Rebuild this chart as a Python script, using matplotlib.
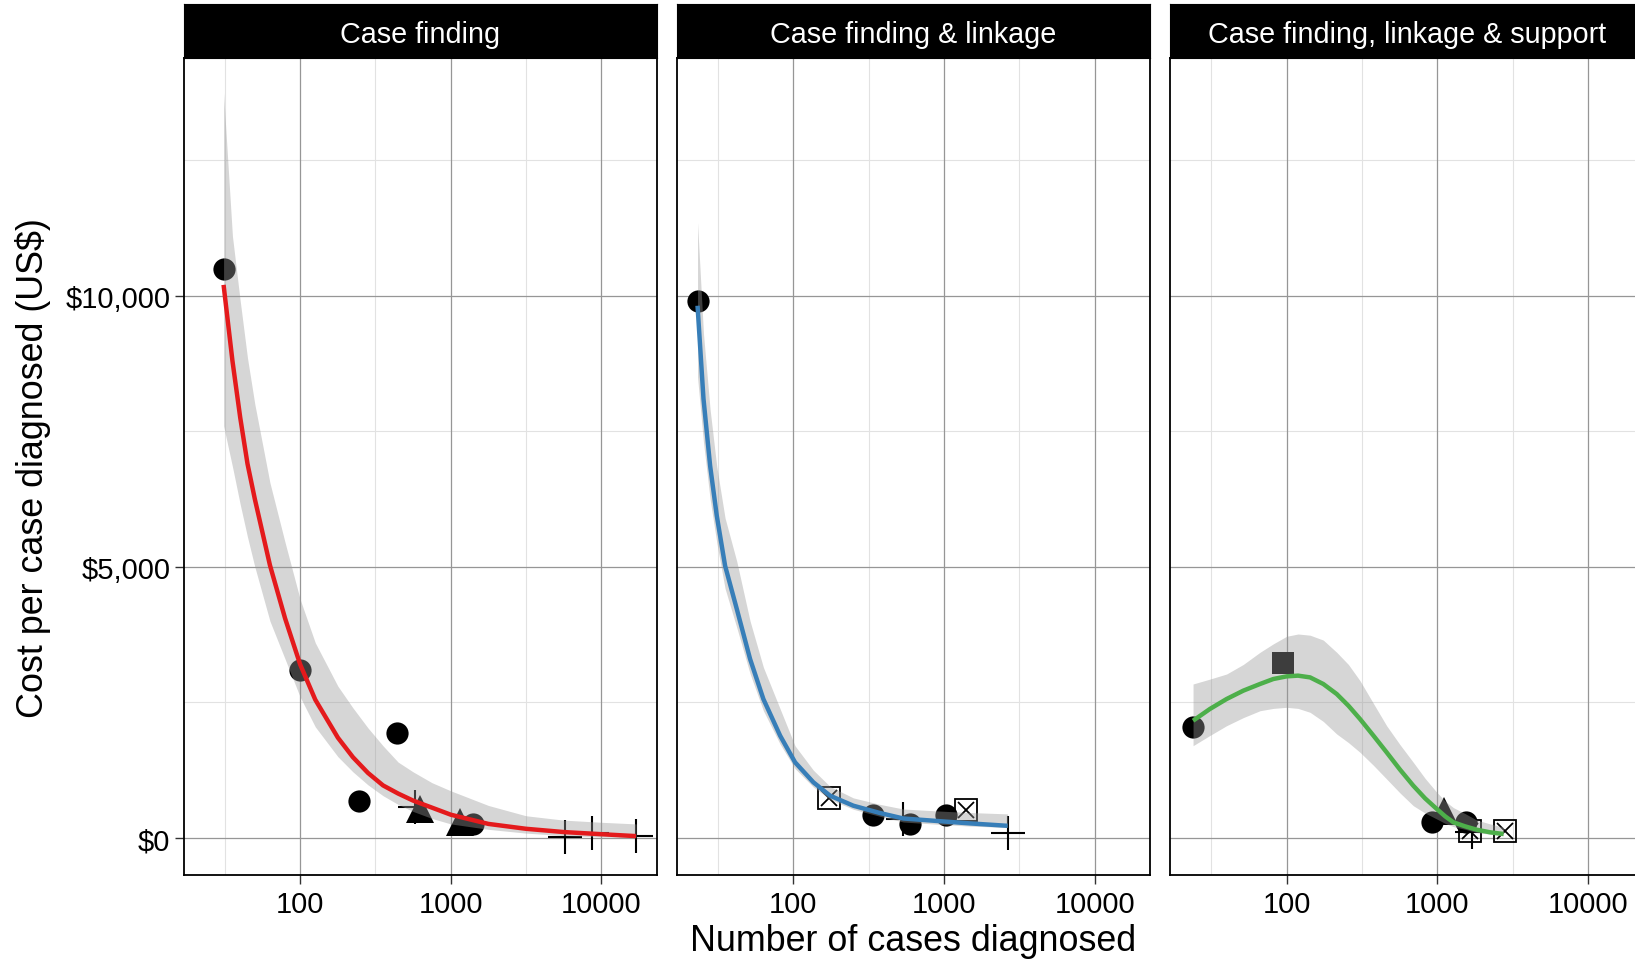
import matplotlib
matplotlib.use("Agg")
import matplotlib.pyplot as plt

plt.rcParams['font.family'] = ['Liberation Sans', 'DejaVu Sans']

panel_titles = ['Case finding', 'Case finding & linkage', 'Case finding, linkage & support']
line_colors = ['#E41A1C', '#377EB8', '#4DAF4A']

# points: cases diagnosed, cost per case (US$)
p1_circle_x = [31, 99, 438, 247, 1414]
p1_circle_y = [10490, 3100, 1930, 690, 250]
p1_tri_x = [620, 1153]
p1_tri_y = [540, 300]
p1_plus_x = [580, 5730, 8610, 17000]
p1_plus_y = [570, 15, 100, 35]

p2_circle_x = [23.1, 336, 594, 1031]
p2_circle_y = [9910, 424, 258, 424]
p2_boxx_x = [172, 1400]
p2_boxx_y = [735, 522]
p2_plus_x = [537, 2645]
p2_plus_y = [350, 92]

p3_circle_x = [23.9, 922, 1542]
p3_circle_y = [2040, 290, 300]
p3_square_x = [95]
p3_square_y = [3220]
p3_tri_x = [1101]
p3_tri_y = [500]
p3_boxx_x = [1648, 2820]
p3_boxx_y = [135, 135]
p3_plus_x = [1706]
p3_plus_y = [110]

# fitted curves with their bands
fit1_x = [31, 35.5, 40, 44.7, 50, 63, 79.4, 100, 126, 178, 224, 282, 355, 447, 562, 750,
          1000, 1778, 3162, 5623, 10000, 17000]
fit1_y = [10200, 8800, 7750, 6900, 6250, 5030, 4050, 3200, 2550, 1850, 1490, 1200, 970, 820, 690, 560,
          430, 260, 170, 110, 70, 35]
fit1_lo = [7600, 6850, 6150, 5550, 5000, 4000, 3300, 2600, 2050, 1500, 1220, 980, 780, 620, 490, 360,
           260, 160, 90, 45, 20, 8]
fit1_hi = [13740, 11100, 9900, 8850, 8000, 6550, 5450, 4400, 3600, 2800, 2400, 2030, 1700, 1400, 1220, 1020,
           870, 600, 410, 330, 290, 260]

fit2_x = [23.1, 25.3, 28, 31, 35.2, 42.1, 51.6, 63.2, 81.7, 102.6, 135.8, 175.4, 250, 376, 537, 891, 1479, 2645]
fit2_y = [9815, 8100, 6865, 5943, 5021, 4223, 3300, 2563, 1886, 1396, 1027, 780, 596, 461, 360, 315, 270, 225]
fit2_lo = [8500, 7300, 6250, 5450, 4600, 3880, 3030, 2350, 1730, 1280, 940, 710, 530, 400, 295, 255, 220, 195]
fit2_hi = [11350, 9300, 7900, 6850, 5900, 5100, 4000, 3150, 2380, 1700, 1250, 950, 740, 620, 535, 500, 470, 445]

fit3_x = [23.9, 30.9, 39.9, 51.5, 66.5, 81.5, 100, 119, 143, 175, 215, 257, 307, 377, 461, 566,
          693, 830, 993, 1128, 1280, 1531, 1829, 2244, 2754]
fit3_y = [2163, 2379, 2563, 2717, 2840, 2932, 2981, 2994, 2962, 2840, 2655, 2440, 2194, 1887, 1580, 1260,
          965, 731, 535, 400, 289, 215, 153, 105, 74]
fit3_lo = [1702, 1890, 2071, 2220, 2347, 2390, 2410, 2390, 2318, 2150, 1918, 1760, 1580, 1340, 1088, 830,
           596, 460, 350, 270, 210, 160, 100, 70, 42]
fit3_hi = [2840, 2930, 3024, 3200, 3424, 3580, 3720, 3762, 3740, 3650, 3424, 3200, 2900, 2480, 2071, 1720,
           1396, 1100, 843, 680, 560, 450, 330, 260, 197]

x_ticks = [100, 1000, 10000]
x_minor = [31.6, 316, 3162, 31623]
y_ticks = [0, 5000, 10000]
y_tick_labels = ['$0', '$5,000', '$10,000']
y_minor = [-2500, 2500, 7500, 12500]

W, H = 1635, 962
fig = plt.figure(figsize=(W / 100, H / 100), dpi=100)

lefts = [183.5, 676.7, 1170]
pw = 473.5
top, bottom = 59.4, 876
strip_top = 5

panels = [
    dict(circle=(p1_circle_x, p1_circle_y), tri=(p1_tri_x, p1_tri_y), plus=(p1_plus_x, p1_plus_y),
         fit=(fit1_x, fit1_y, fit1_lo, fit1_hi)),
    dict(circle=(p2_circle_x, p2_circle_y), boxx=(p2_boxx_x, p2_boxx_y), plus=(p2_plus_x, p2_plus_y),
         fit=(fit2_x, fit2_y, fit2_lo, fit2_hi)),
    dict(circle=(p3_circle_x, p3_circle_y), square=(p3_square_x, p3_square_y), tri=(p3_tri_x, p3_tri_y),
         boxx=(p3_boxx_x, p3_boxx_y), plus=(p3_plus_x, p3_plus_y),
         fit=(fit3_x, fit3_y, fit3_lo, fit3_hi)),
]

for i, pan in enumerate(panels):
    ax = fig.add_axes([lefts[i] / W, (H - bottom) / H, pw / W, (bottom - top) / H])
    ax.set_xscale('log')
    ax.set_xlim(16.8, 23400)
    ax.set_ylim(-682, 14376)

    for v in x_minor:
        ax.axvline(v, color='#e2e2e2', lw=0.8, zorder=0)
    for v in y_minor:
        ax.axhline(v, color='#e2e2e2', lw=0.8, zorder=0)
    for v in x_ticks:
        ax.axvline(v, color='#969696', lw=0.9, zorder=0)
    for v in y_ticks:
        ax.axhline(v, color='#969696', lw=0.9, zorder=0)

    if 'circle' in pan:
        ax.plot(*pan['circle'], 'o', color='black', ms=16, mew=0, zorder=2)
    if 'tri' in pan:
        ax.plot(*pan['tri'], '^', color='black', ms=20, mew=0, zorder=2)
    if 'square' in pan:
        ax.plot(*pan['square'], 's', color='black', ms=16, mew=0, zorder=2)
    if 'boxx' in pan:
        ax.plot(*pan['boxx'], 's', mfc='none', mec='black', ms=16, mew=1.3, zorder=2)
        ax.plot(*pan['boxx'], 'x', color='black', ms=11.5, mew=1.3, zorder=2)
    if 'plus' in pan:
        ax.plot(*pan['plus'], '+', color='black', ms=24, mew=1.5, zorder=2)

    fx, fy, flo, fhi = pan['fit']
    ax.fill_between(fx, flo, fhi, color='#999999', alpha=0.4, lw=0, zorder=3)
    ax.plot(fx, fy, color=line_colors[i], lw=3.2, zorder=4, solid_capstyle='butt', solid_joinstyle='round')

    ax.set_xticks(x_ticks)
    ax.set_xticklabels([str(t) for t in x_ticks])
    ax.xaxis.set_minor_locator(matplotlib.ticker.NullLocator())
    ax.set_yticks(y_ticks)
    if i == 0:
        ax.set_yticklabels(y_tick_labels)
    else:
        ax.tick_params(axis='y', left=False, labelleft=False)
    ax.tick_params(axis='both', length=6.5, width=1, color='#333333', labelsize=21, labelcolor='black')
    ax.tick_params(axis='x', pad=4)
    ax.tick_params(axis='y', pad=3)
    for s in ax.spines.values():
        s.set_color('black')
        s.set_linewidth(1.3)
        s.set_zorder(5)

    sax = fig.add_axes([lefts[i] / W, (H - top) / H, pw / W, (top - strip_top) / H])
    sax.set_facecolor('black')
    sax.set_xticks([])
    sax.set_yticks([])
    for s in sax.spines.values():
        s.set_color('black')
    sax.text(0.5, 0.44, panel_titles[i], color='white', fontsize=20.7, ha='center', va='center',
             transform=sax.transAxes)

fig.text(913.5 / W, (H - 941.6) / H, 'Number of cases diagnosed', fontsize=25.8, ha='center', va='center')
fig.text(33 / W, (H - 468) / H, 'Cost per case diagnosed (US$)', fontsize=25.8, ha='center', va='center',
         rotation=90)

fig.savefig('out.png', dpi=100, facecolor='white')
